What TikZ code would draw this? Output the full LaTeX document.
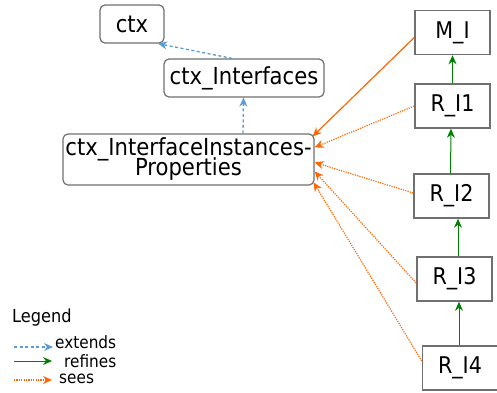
\documentclass[tikz,border=0pt]{standalone}
\usepackage{fontspec}
\setmainfont{DejaVu Sans Condensed}
\usetikzlibrary{arrows.meta}
\definecolor{extc}{HTML}{5B9BD5}
\definecolor{refc}{HTML}{008000}
\definecolor{seec}{HTML}{FF6600}
\definecolor{boxc}{HTML}{707070}
\newcommand{\tightlines}{\lineskiplimit=-100pt\relax\lineskip=0pt\relax}
\tikzset{
  ctxbox/.style={draw=boxc, line width=1.2pt, rounded corners=5pt, fill=white, inner sep=0pt, align=center,
    font=\fontsize{23.5}{20}\selectfont\tightlines},
  machbox/.style={draw=boxc, line width=1.5pt, fill=white, inner sep=0pt, minimum width=75pt, minimum height=44pt,
    font=\fontsize{23}{19}\selectfont},
  tip/.style={-{Stealth[length=9pt,width=8pt]}},
  extendsarr/.style={tip, draw=extc, line width=1.3pt, dash pattern=on 3pt off 2.5pt},
  refinesarr/.style={tip, draw=refc, line width=1pt},
  seesarr/.style={tip, draw=seec, line width=1.2pt, dash pattern=on 1.2pt off 1.2pt},
  seessolid/.style={tip, draw=seec, line width=1.2pt},
  legtext/.style={anchor=west, inner sep=0pt, font=\fontsize{17}{17}\selectfont}
}
\begin{document}
\begin{tikzpicture}[x=1pt,y=-1pt]
\useasboundingbox (0,0) rectangle (497,392);
% context nodes
\node[ctxbox, minimum width=64pt, minimum height=38pt] (ctx) at (132,24) {ctx};
\node[ctxbox, minimum width=160pt, minimum height=38pt] (ctxI) at (244,78) {ctx\_Interfaces};
\node[ctxbox, minimum width=251pt, minimum height=51pt] (ii) at (188.5,159.5) {ctx\_InterfaceInstances-\\Properties};
% machines
\node[machbox] (mi) at (452.5,32.5) {M\_I};
\node[machbox] (r1) at (452.5,106) {R\_I1};
\node[machbox] (r2) at (451.5,196) {R\_I2};
\node[machbox] (r3) at (454.5,279) {R\_I3};
\node[machbox] (r4) at (460,368) {R\_I4};
% extends
\draw[extendsarr] ([xshift=-12pt]ctxI.north) -- ([xshift=26pt]ctx.south);
\draw[extendsarr] ([xshift=54.5pt]ii.north) -- ([xshift=-0.5pt]ctxI.south);
% refines
\draw[refinesarr] (r1.north) -- (mi.south);
\draw[refinesarr] ([xshift=-1pt]r2.north) -- ([xshift=-1.5pt]r1.south);
\draw[refinesarr] ([xshift=3.5pt]r3.north) -- ([xshift=6.5pt]r2.south);
\draw[refinesarr] ([xshift=-1pt]r4.north) -- ([xshift=4.5pt]r3.south);
% sees
\draw[seessolid] ([yshift=-5pt]mi.west) -- ([xshift=-2pt,yshift=-3pt]ii.north east);
\draw[seesarr] (r1.west) -- ([yshift=-14pt]ii.north east);
\draw[seesarr] ([yshift=3pt]r2.west) -- ([yshift=-29pt]ii.north east);
\draw[seesarr] ([yshift=-4pt]r3.west) -- ([yshift=-38pt]ii.north east);
\draw[seesarr] ([yshift=7pt]r4.west) -- ([xshift=-1pt,yshift=-49pt]ii.north east);
% legend
\node[legtext, font=\fontsize{18}{18}\selectfont] (leg) at (12,318) {Legend};
\coordinate (l1a) at (14,347); \coordinate (l1b) at (53,347);
\coordinate (l2a) at (14,361); \coordinate (l2b) at (52,361);
\coordinate (l3a) at (14,380); \coordinate (l3b) at (52,380);
\draw[extendsarr] (l1a) -- (l1b);
\draw[refinesarr] (l2a) -- (l2b);
\draw[seesarr] (l3a) -- (l3b);
\node[legtext] (t1) at (55,342) {extends};
\node[legtext] (t2) at (64,361) {refines};
\node[legtext] (t3) at (59,379) {sees};
\end{tikzpicture}
\end{document}
